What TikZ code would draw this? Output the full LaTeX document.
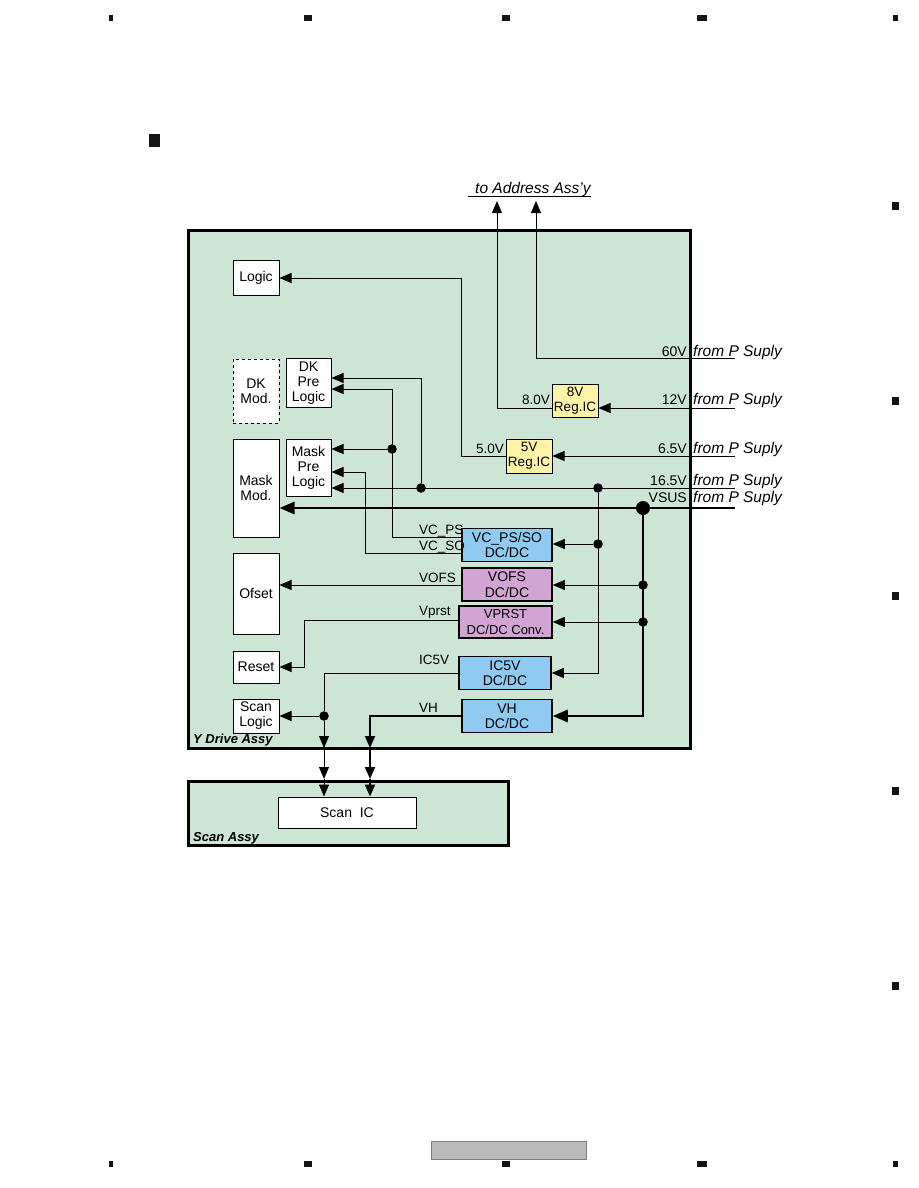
\documentclass[tikz,border=0pt]{standalone}
\usepackage{fontspec}
\setmainfont{Liberation Sans}
\usepackage{tikz}
\usetikzlibrary{arrows.meta, positioning}
\definecolor{assy}{RGB}{205,229,213}
\definecolor{dcblue}{RGB}{143,202,240}
\definecolor{dcpink}{RGB}{210,164,211}
\definecolor{regic}{RGB}{255,243,168}
\definecolor{pagemark}{RGB}{20,20,20}

\tikzset{
  blk/.style={draw, fill=white, line width=1pt, align=center},
  conv/.style={draw, line width=1.5pt, align=center, minimum width=90pt, minimum height=33pt,
    font=\fontsize{14}{15.5}\selectfont},
  reg/.style={draw, fill=regic, line width=1pt, align=center, minimum width=46pt, minimum height=33pt,
    font=\fontsize{13.5}{15}\selectfont},
  assybox/.style={draw, fill=assy, line width=3pt},
  wire/.style={line width=1pt},
  bus/.style={line width=2.8pt},
  vhwire/.style={line width=2pt},
  tip/.style={-{Triangle[length=12pt,width=10pt]}},
  bigtip/.style={-{Triangle[length=15pt,width=12pt]}},
  jn/.style={circle, fill=black, minimum size=9.5pt},
  bigjn/.style={circle, fill=black, minimum size=14pt},
  lbl/.style={font=\fontsize{13.5}{16}\selectfont},
  volt/.style={font=\fontsize{14}{16}\selectfont},
  src/.style={font=\fontsize{15.5}{18}\selectfont\itshape},
  assylbl/.style={font=\fontsize{13}{16}\selectfont\bfseries\itshape},
}

\begin{document}
\begin{tikzpicture}[x=1pt, y=-1pt, every node/.style={font=\fontsize{14}{15}\selectfont, inner sep=0pt}]
  \path[fill=white] (0,0) rectangle (918,1188);

  % page marks
  \foreach \mx/\mw in {111/4, 308/8, 506/8, 702/10, 895/5} {
    \fill[pagemark] (\mx-\mw/2,15) rectangle (\mx+\mw/2,21);
    \fill[pagemark] (\mx-\mw/2,1161) rectangle (\mx+\mw/2,1167);
  }
  \foreach \my in {206, 401, 596, 791, 986}
    \fill[pagemark] (892,\my-4) rectangle (899,\my+4);
  \fill[pagemark] (149,134) rectangle (160,147);
  \filldraw[fill=black!27, draw=black!50, line width=0.8pt] (431,1141) rectangle (586,1159);

  % assemblies
  \node[assybox, minimum width=502pt, minimum height=518pt] (ydrive) at (439,489) {};
  \node[assybox, minimum width=320pt, minimum height=64pt] (scanassy) at (348,813) {};
  \node[assylbl, anchor=base west] (ylbl) at (193,743) {Y Drive Assy};
  \node[assylbl, anchor=base west] (slbl) at (193,841) {Scan Assy};

  \node[src, anchor=base west] (addr) at (475,193.5) {to Address Ass'y};
  \draw[line width=1.1pt] ([xshift=-7pt]addr.south west) -- (addr.south east);

  % supply side
  \coordinate (a8) at (497,201);
  \coordinate (a60) at (536,201);
  \coordinate (s60) at (735,358);
  \coordinate (s12) at (735,408);
  \coordinate (s65) at (735,456);
  \coordinate (s165) at (735,488);
  \coordinate (svsus) at (735,508);

  \node[volt, anchor=base east] (v60) at (687,356) {60V};
  \node[src, anchor=base west] (f60) at (693,356) {from P Suply};
  \node[volt, anchor=base east] (v12) at (687,404) {12V};
  \node[src, anchor=base west] (f12) at (693,404) {from P Suply};
  \node[volt, anchor=base east] (v65) at (687,453) {6.5V};
  \node[src, anchor=base west] (f65) at (693,453) {from P Suply};
  \node[volt, anchor=base east] (v165) at (687,485) {16.5V};
  \node[src, anchor=base west] (f165) at (693,485) {from P Suply};
  \node[volt, anchor=base east] (vvsus) at (687,502) {VSUS};
  \node[src, anchor=base west] (fvsus) at (693,502) {from P Suply};

  % load blocks
  \node[blk, minimum width=46pt, minimum height=35pt] (logic) at (256,278) {Logic};
  \node[blk, dashed, minimum width=46pt, minimum height=64pt] (dkmod) at (256,391) {DK\\Mod.};
  \node[blk, minimum width=45pt, minimum height=49pt] (dkpre) at (308.5,383) {DK\\Pre\\Logic};
  \node[blk, minimum width=46pt, minimum height=98pt] (maskmod) at (256,488) {Mask\\Mod.};
  \node[blk, minimum width=45pt, minimum height=57pt] (maskpre) at (308.5,467.5) {Mask\\Pre\\Logic};
  \node[blk, minimum width=46pt, minimum height=81pt] (ofset) at (256,593.5) {Ofset};
  \node[blk, minimum width=46pt, minimum height=32pt] (reset) at (256,667) {Reset};
  \node[blk, minimum width=46pt, minimum height=34pt] (scanlogic) at (256,716) {Scan\\Logic};
  \node[blk, minimum width=138pt, minimum height=31pt] (scanic) at (347,812.5) {Scan\ \ IC};

  % regulators and converters
  \node[reg] (reg8) at (575,400.5) {8V\\Reg.IC};
  \node[reg, minimum height=34pt] (reg5) at (529,456) {5V\\Reg.IC};
  \node[conv, fill=dcblue] (vcps) at (507,545) {VC\_PS/SO\\DC/DC};
  \node[conv, fill=dcpink] (vofs) at (507,584.5) {VOFS\\DC/DC};
  \node[conv, fill=dcpink, minimum width=93pt, minimum height=32pt, font=\fontsize{13}{15.5}\selectfont] (vprst) at (505.5,622) {VPRST\\DC/DC Conv.};
  \node[conv, fill=dcblue, minimum width=92pt] (ic5v) at (505,673) {IC5V\\DC/DC};
  \node[conv, fill=dcblue] (vh) at (507,716) {VH\\DC/DC};

  \node[lbl, anchor=base east] (o8) at (550,404) {8.0V};
  \node[lbl, anchor=base east] (o5) at (504,453) {5.0V};
  \node[lbl, anchor=base west] (lvcps) at (419,534.5) {VC\_PS};
  \node[lbl, anchor=base west] (lvcso) at (419,550.5) {VC\_SO};
  \node[lbl, anchor=base west] (lvofs) at (419,582.5) {VOFS};
  \node[lbl, anchor=base west] (lvprst) at (419,615) {Vprst};
  \node[lbl, anchor=base west] (lic5v) at (419,664) {IC5V};
  \node[lbl, anchor=base west] (lvh) at (419,712.5) {VH};

  % 60V / 12V to address
  \draw[wire,tip] (s60) -| (a60);
  \draw[wire,tip] (s12) -- (reg8.east |- s12);
  \draw[wire,tip] (reg8.west |- s12) -| (a8);

  % 6.5V -> 5V reg -> logic
  \coordinate (c5) at (461,278);
  \draw[wire,tip] (s65) -- (reg5.east |- s65);
  \draw[wire,tip] (reg5.west |- s65) -| (c5) -- (logic.east);

  % 16.5V
  \node[jn] (j165a) at (598,488) {};
  \node[jn] (j165b) at (421,488) {};
  \node[jn] (jvc) at (598,544) {};
  \coordinate (k1) at (421,378);
  \draw[wire,tip] (s165) -- (maskpre.east |- s165);
  \draw[wire,tip] (j165b) -- (k1) -- (dkpre.east |- k1);
  \draw[wire,tip] (j165a) |- (ic5v.east);
  \draw[wire,tip] (jvc) -- (vcps.east |- jvc);

  % VSUS
  \node[bigjn] (jvs) at (643,508) {};
  \node[jn] (jof) at (643,585) {};
  \node[jn] (jpr) at (643,622) {};
  \draw[bus,bigtip] (svsus) -- (maskmod.east |- svsus);
  \draw[bus,bigtip] (jvs) |- (vh.east);
  \draw[wire,tip] (jof) -- (vofs.east |- jof);
  \draw[wire,tip] (jpr) -- (vprst.east |- jpr);

  % VC_PS / VC_SO
  \coordinate (vp1) at (392,537);
  \coordinate (vp2) at (392,389);
  \coordinate (vs1) at (365,553);
  \coordinate (vs2) at (365,472);
  \node[jn] (jvp) at (392,449) {};
  \draw[wire,tip] (vcps.west |- vp1) -- (vp1) -- (vp2) -- (dkpre.east |- vp2);
  \draw[wire,tip] (jvp) -- (maskpre.east |- jvp);
  \draw[wire,tip] (vcps.west |- vs1) -- (vs1) -- (vs2) -- (maskpre.east |- vs2);

  % VOFS, Vprst
  \coordinate (vr) at (304,620);
  \draw[wire,tip] (vofs.west |- jof) -- (ofset.east |- jof);
  \draw[wire,tip] (vprst.west |- vr) -- (vr) |- (reset.east);

  % IC5V, VH down to scan IC
  \coordinate (ic1) at (324,673);
  \node[jn] (jsl) at (324,716) {};
  \coordinate (yb1) at (324,748);
  \coordinate (sb1) at (324,779);
  \draw[wire] (ic5v.west) -- (ic1) -- (jsl);
  \draw[wire,tip] (jsl) -- (scanlogic.east);
  \draw[wire,tip] (jsl) -- (yb1);
  \draw[wire,tip] (yb1) -- (sb1);
  \draw[wire,tip] (sb1) -- (scanic.north -| sb1);

  \coordinate (vh1) at (370,716);
  \coordinate (yb2) at (370,748);
  \coordinate (sb2) at (370,779);
  \draw[vhwire,tip] (vh.west) -- (vh1) -- (yb2);
  \draw[vhwire,tip] (yb2) -- (sb2);
  \draw[vhwire,tip] (sb2) -- (scanic.north -| sb2);
\end{tikzpicture}
\end{document}
